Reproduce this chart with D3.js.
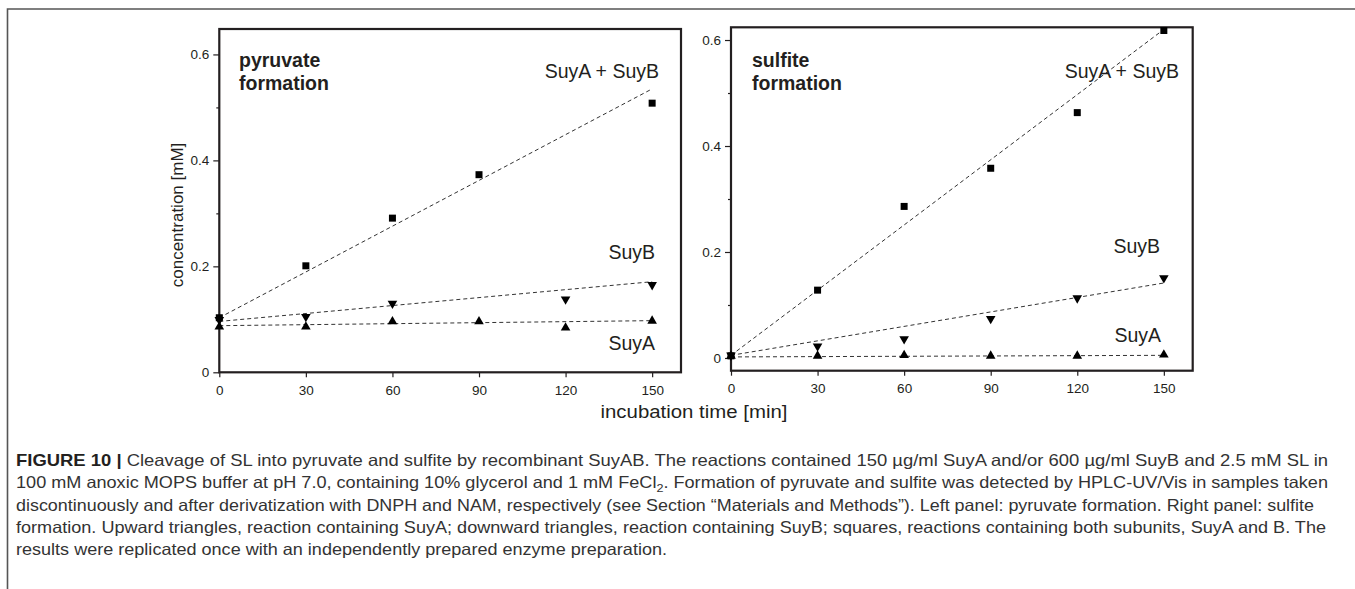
<!DOCTYPE html>
<html>
<head>
<meta charset="utf-8">
<script src="https://cdn.jsdelivr.net/npm/d3@7"></script>
<style>
  html, body { margin: 0; padding: 0; background: #fff; }
  svg { display: block; }
</style>
</head>
<body>
<svg id="chart" width="1355" height="589"></svg>
<script>
// ---------------- data ----------------
const xTicks = [0, 30, 60, 90, 120, 150];
const yTicks = [0, 0.2, 0.4, 0.6];
const yMinorTicks = [0.1, 0.3, 0.5];

// left panel: pyruvate formation
const pyrBoth = [[0, 0.103], [30, 0.201], [60, 0.291], [90, 0.373], [150, 0.508]];
const pyrSuyB = [[0, 0.099], [30, 0.105], [60, 0.130], [120, 0.138], [150, 0.165]];
const pyrSuyA = [[0, 0.086], [30, 0.086], [60, 0.096], [90, 0.096], [120, 0.084], [150, 0.097]];
const pyrFitBoth = [[0, 0.103], [150, 0.535]];
const pyrFitSuyB = [[0, 0.096], [150, 0.171]];
const pyrFitSuyA = [[0, 0.088], [150, 0.0975]];

// right panel: sulfite formation
const sulBoth = [[0, 0.004], [30, 0.128], [60, 0.286], [90, 0.358], [120, 0.463], [150, 0.618]];
const sulSuyB = [[0, 0.005], [30, 0.022], [60, 0.036], [90, 0.074], [120, 0.113], [150, 0.151]];
const sulSuyA = [[0, 0.004], [30, 0.004], [60, 0.005], [90, 0.004], [120, 0.004], [150, 0.006]];
const sulFitBoth = [[0, 0.005], [150, 0.62]];
const sulFitSuyB = [[0, 0.005], [150, 0.1415]];
const sulFitSuyA = [[0, 0.002], [150, 0.005]];

const seriesLabels = ["SuyA + SuyB", "SuyB", "SuyA"];
const panelTitles = [["pyruvate", "formation"], ["sulfite", "formation"]];
const xTitle = "incubation time [min]";
const yTitle = "concentration [mM]";

const caption = [
  [{t: "FIGURE 10 | ", b: true}, {t: "Cleavage of SL into pyruvate and sulfite by recombinant SuyAB. The reactions contained 150 \u00B5g/ml SuyA and/or 600 \u00B5g/ml SuyB and 2.5 mM SL in"}],
  [{t: "100 mM anoxic MOPS buffer at pH 7.0, containing 10% glycerol and 1 mM FeCl"}, {t: "2", sub: true}, {t: ". Formation of pyruvate and sulfite was detected by HPLC-UV/Vis in samples taken"}],
  [{t: "discontinuously and after derivatization with DNPH and NAM, respectively (see Section \u201CMaterials and Methods\u201D). Left panel: pyruvate formation. Right panel: sulfite"}],
  [{t: "formation. Upward triangles, reaction containing SuyA; downward triangles, reaction containing SuyB; squares, reactions containing both subunits, SuyA and B. The"}],
  [{t: "results were replicated once with an independently prepared enzyme preparation."}]
];
const captionWidths = [1312, 1312, 1298, 1310, 651];

// ---------------- drawing ----------------
const svg = d3.select("#chart");
const ink = "#231f20";
const font = "'Liberation Sans', Arial, Helvetica, sans-serif";

// page border (top + left)
svg.append("path")
  .attr("d", "M7.5,589 L7.5,9 L1355,9")
  .attr("fill", "none").attr("stroke", "#555").attr("stroke-width", 1.6);

const panels = [
  {x0: 219.3, x1: 681, yTop: 29, yBot: 372.3, yDom: [0, 0.648],
   both: pyrBoth, b: pyrSuyB, a: pyrSuyA, fits: [pyrFitBoth, pyrFitSuyB, pyrFitSuyA],
   title: panelTitles[0], titleX: 239, titleY: [67, 90],
   labels: [{x: 659, y: 78}, {x: 655, y: 259}, {x: 655, y: 350}]},
  {x0: 731, x1: 1192.7, yTop: 27.3, yBot: 370.7, yDom: [-0.024, 0.624],
   both: sulBoth, b: sulSuyB, a: sulSuyA, fits: [sulFitBoth, sulFitSuyB, sulFitSuyA],
   title: panelTitles[1], titleX: 752, titleY: [67, 90],
   labels: [{x: 1179, y: 78}, {x: 1160, y: 252.5}, {x: 1161, y: 342}]}
];

const fmt = d => d === 0 ? "0" : d3.format(".1f")(d);

panels.forEach(p => {
  const x = d3.scaleLinear().domain([0, 160]).range([p.x0, p.x1]);
  const y = d3.scaleLinear().domain(p.yDom).range([p.yBot, p.yTop]);
  const g = svg.append("g");

  // axes
  const ya = g.append("g").attr("transform", `translate(${p.x0},0)`)
    .call(d3.axisLeft(y).tickValues(yTicks).tickFormat(fmt).tickSize(6).tickPadding(4));
  const yaMinor = g.append("g").attr("transform", `translate(${p.x0},0)`)
    .call(d3.axisLeft(y).tickValues(yMinorTicks).tickFormat("").tickSize(3));
  const xa = g.append("g").attr("transform", `translate(0,${p.yBot})`)
    .call(d3.axisBottom(x).tickValues(xTicks).tickSize(5).tickPadding(8));
  [ya, yaMinor, xa].forEach(a => {
    a.select(".domain").remove();
    a.selectAll("line").attr("stroke", ink).attr("stroke-width", 1.2);
    a.selectAll("text").attr("fill", ink).style("font-family", font).style("font-size", "13.5px");
  });

  // frame
  g.append("rect").attr("x", p.x0).attr("y", p.yTop)
    .attr("width", p.x1 - p.x0).attr("height", p.yBot - p.yTop)
    .attr("fill", "none").attr("stroke", ink).attr("stroke-width", 2.2);

  // fit lines
  const line = d3.line().x(d => x(d[0])).y(d => y(d[1]));
  p.fits.forEach(f => {
    g.append("path").attr("d", line(f)).attr("fill", "none")
      .attr("stroke", "#333").attr("stroke-width", 1).attr("stroke-dasharray", "4,3");
  });

  // markers
  const sq = d3.symbol(d3.symbolSquare).size(49);
  const tri = d3.symbol(d3.symbolTriangle).size(40);
  g.selectAll(".sq").data(p.both).join("path")
    .attr("d", sq).attr("fill", "#000")
    .attr("transform", d => `translate(${x(d[0])},${y(d[1])})`);
  g.selectAll(".tb").data(p.b).join("path")
    .attr("d", tri).attr("fill", "#000")
    .attr("transform", d => `translate(${x(d[0])},${y(d[1])}) rotate(180)`);
  g.selectAll(".ta").data(p.a).join("path")
    .attr("d", tri).attr("fill", "#000")
    .attr("transform", d => `translate(${x(d[0])},${y(d[1])})`);

  // panel title
  p.title.forEach((t, i) => {
    g.append("text").attr("x", p.titleX).attr("y", p.titleY[i]).text(t)
      .attr("fill", ink).style("font-family", font).style("font-size", "19.5px").style("font-weight", "bold");
  });
  // series labels
  seriesLabels.forEach((t, i) => {
    g.append("text").attr("x", p.labels[i].x).attr("y", p.labels[i].y).text(t)
      .attr("text-anchor", "end").attr("fill", ink)
      .style("font-family", font).style("font-size", "19.5px");
  });
});

// axis titles
svg.append("text").attr("x", 694).attr("y", 418).text(xTitle)
  .attr("text-anchor", "middle").attr("fill", ink)
  .attr("textLength", 187).attr("lengthAdjust", "spacingAndGlyphs")
  .style("font-family", font).style("font-size", "17.5px");
svg.append("text").attr("transform", "translate(183,215) rotate(-90)").text(yTitle)
  .attr("text-anchor", "middle").attr("fill", ink)
  .style("font-family", font).style("font-size", "17px");

// caption
const capBase = [466, 488.3, 510.6, 532.9, 555.2];
caption.forEach((parts, i) => {
  const t = svg.append("text").attr("x", 16).attr("y", capBase[i])
    .attr("textLength", captionWidths[i]).attr("lengthAdjust", "spacingAndGlyphs")
    .attr("fill", "#333").style("font-family", font).style("font-size", "16.5px");
  parts.forEach((pt, j) => {
    const s = t.append("tspan").text(pt.t);
    if (pt.b) s.style("font-weight", "bold").attr("fill", "#231f20");
    if (pt.sub) s.style("font-size", "11.5px").attr("dy", 4);
    else if (j > 0 && parts[j - 1].sub) s.attr("dy", -4);
  });
});
</script>
</body>
</html>
